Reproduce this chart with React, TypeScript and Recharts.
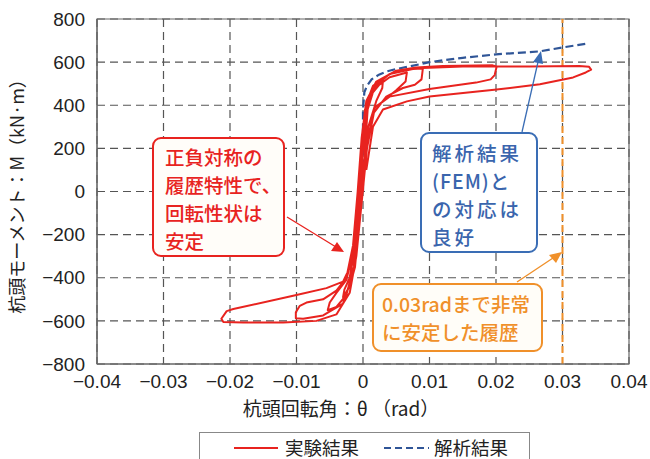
import React from 'react';
import { LineChart, Line, XAxis, YAxis, CartesianGrid, ReferenceLine, ReferenceArea } from 'recharts';

// axis ticks
const xTicks = [-0.04, -0.03, -0.02, -0.01, 0, 0.01, 0.02, 0.03, 0.04];
const xTickLabels = ['−0.04', '−0.03', '−0.02', '−0.01', '0', '0.01', '0.02', '0.03', '0.04'];
const yTicks = [-800, -600, -400, -200, 0, 200, 400, 600, 800];
const yTickLabels = ['−800', '−600', '−400', '−200', '0', '200', '400', '600', '800'];

// 実験結果: [θ (rad), M (kN·m)], cycle by cycle
const cycle1: [number, number][] = [
  [0, 0], [0.0003, 200], [0.0007, 380], [0.0015, 460], [0.003, 515],
  [0.0029, 480], [0.002, 420], [0.0008, 300], [0, 50], [-0.0006, -150],
  [-0.0012, -350], [-0.002, -440], [-0.003, -490], [-0.0028, -455], [-0.002, -400],
  [-0.0012, -250], [-0.0006, -50], [0, 200],
];
const cycle2: [number, number][] = [
  [0.0006, 400], [0.0018, 480], [0.004, 530], [0.0066, 552], [0.0064, 510],
  [0.005, 470], [0.003, 420], [0.0015, 360], [0.0002, 150], [-0.0006, -100],
  [-0.0014, -350], [-0.0025, -480], [-0.004, -535], [-0.0053, -550], [-0.005, -515],
  [-0.004, -470], [-0.0025, -410], [-0.0015, -280], [-0.0008, -50], [-0.0002, 200],
];
const cycle3: [number, number][] = [
  [0.0004, 400], [0.0015, 490], [0.004, 545], [0.0075, 568], [0.009, 570],
  [0.0088, 520], [0.0078, 495], [0.006, 480], [0.0035, 440], [0.0015, 360],
  [0.0003, 150], [-0.0005, -100], [-0.0014, -370], [-0.003, -520], [-0.006, -575],
  [-0.009, -590], [-0.0101, -588], [-0.0101, -560], [-0.0095, -530], [-0.0085, -515],
  [-0.006, -500], [-0.004, -460], [-0.0025, -400], [-0.0015, -250], [-0.0008, 0],
  [-0.0002, 250],
];
const cycle4: [number, number][] = [
  [0.0005, 420], [0.002, 510], [0.005, 560], [0.008, 575], [0.012, 582],
  [0.0195, 585], [0.0201, 580], [0.0198, 540], [0.0192, 520], [0.017, 505],
  [0.01, 475], [0.004, 440], [0.0018, 390], [0.0006, 200], [-0.0002, -50],
  [-0.001, -300], [-0.002, -470], [-0.004, -570], [-0.007, -600], [-0.012, -608],
  [-0.018, -608], [-0.021, -605], [-0.0213, -590], [-0.0205, -555], [-0.0195, -545],
  [-0.01, -480], [-0.0055, -448], [-0.003, -418], [-0.0018, -340], [-0.001, -100],
  [-0.0004, 150],
];
const cycle5: [number, number][] = [
  [0.0003, 380], [0.0015, 480], [0.004, 545], [0.008, 572], [0.015, 580],
  [0.025, 580], [0.0325, 582], [0.034, 578], [0.0343, 565], [0.0335, 552],
  [0.0316, 529], [0.0266, 497], [0.0201, 473], [0.01, 441], [0.0066, 418],
  [0.003, 380], [0.0015, 300], [0.0005, 100],
];

// 解析結果 (FEM)
const femPoints: [number, number][] = [
  [0, 0], [0, 200], [0, 380], [0.0002, 460], [0.0006, 490], [0.0013, 520],
  [0.0024, 542], [0.0036, 557], [0.005, 568], [0.007, 580], [0.01, 600],
  [0.015, 620], [0.02, 636], [0.0266, 650], [0.03, 668], [0.034, 687],
];

const limitTheta = 0.03;

const experiment = [...cycle1, ...cycle2, ...cycle3, ...cycle4, ...cycle5].map(([x, y]) => ({ x, y }));
const fem = femPoints.map(([x, y]) => ({ x, y }));

const RED = '#e8231f';
const BLUE = '#2f5597';
const ORANGE = '#f0902a';
const NUM_FONT = "'Liberation Sans', Arial, 'Noto Sans CJK JP', sans-serif";
const JP_FONT = "'Noto Sans CJK JP', sans-serif";

const boxText: React.CSSProperties = {
  fontFamily: JP_FONT,
  fontSize: 19.5,
  lineHeight: '28px',
  fontWeight: 500,
  whiteSpace: 'nowrap',
};

export default function App() {
  return (
    <div style={{ position: 'absolute', left: 0, top: 0, width: 650, height: 459, background: '#fff', overflow: 'hidden' }}>
      <LineChart width={650} height={459} margin={{ top: 19, right: 21, bottom: 40, left: 0 }}>
        <CartesianGrid strokeDasharray="8 5" stroke="#555" strokeWidth={1.2} />
        <XAxis
          type="number"
          dataKey="x"
          domain={[-0.04, 0.04]}
          ticks={xTicks}
          tickFormatter={(v: number) => xTickLabels[xTicks.indexOf(v)] ?? String(v)}
          tick={{ fontSize: 19, fill: '#222', fontFamily: NUM_FONT }}
          tickLine={false}
          tickMargin={5}
          axisLine={{ stroke: '#666' }}
          height={55}
          allowDataOverflow
          label={{
            content: () => (
              <text x={341} y={411} textAnchor="middle" dominantBaseline="middle" fontSize={19} fill="#222" fontFamily={JP_FONT}>
                杭頭回転角：θ （rad）
              </text>
            ),
          }}
        />
        <YAxis
          type="number"
          domain={[-800, 800]}
          ticks={yTicks}
          tickFormatter={(v: number) => yTickLabels[yTicks.indexOf(v)] ?? String(v)}
          tick={{ fontSize: 19, fill: '#222', fontFamily: NUM_FONT }}
          tickLine={false}
          tickMargin={6}
          axisLine={{ stroke: '#666' }}
          width={97}
          allowDataOverflow
          label={{
            content: () => (
              <text
                x={19}
                y={192}
                transform="rotate(-90 19 192)"
                textAnchor="middle"
                dominantBaseline="middle"
                fontSize={18}
                fill="#222"
                fontFamily={JP_FONT}
              >
                杭頭モーメント：M（kN·m）
              </text>
            ),
          }}
        />
        <ReferenceArea x1={-0.04} x2={0.04} y1={-800} y2={800} fill="none" stroke="#666" strokeWidth={1.2} />
        <ReferenceLine x={limitTheta} stroke={ORANGE} strokeWidth={2} strokeDasharray="7 4" />
        <Line
          data={fem}
          dataKey="y"
          type="linear"
          stroke={BLUE}
          strokeWidth={2.2}
          strokeDasharray="8 4"
          dot={false}
          isAnimationActive={false}
        />
        <Line
          data={experiment}
          dataKey="y"
          type="linear"
          stroke={RED}
          strokeWidth={2}
          strokeLinejoin="round"
          dot={false}
          isAnimationActive={false}
        />
      </LineChart>

      <svg width={650} height={459} style={{ position: 'absolute', left: 0, top: 0, pointerEvents: 'none' }}>
        <line x1={287} y1={217} x2={336} y2={247} stroke={RED} strokeWidth={1.3} />
        <polygon points="344,252 331,251 337,242" fill={RED} />
        <line x1={522} y1={132} x2={538} y2={62} stroke="#3a6db5" strokeWidth={1.3} />
        <polygon points="541,51 543,64 533,62" fill="#3a6db5" />
        <line x1={517} y1={282} x2={553} y2={258} stroke={ORANGE} strokeWidth={1.3} />
        <polygon points="562,252 556,263 549,255" fill={ORANGE} />
      </svg>

      <div
        style={{
          position: 'absolute', left: 152, top: 137, width: 133, height: 120, boxSizing: 'border-box',
          border: `2px solid ${RED}`, borderRadius: 9, background: '#fffdf9', color: RED,
          padding: '4px 0 0 11px', ...boxText,
        }}
      >
        <div>正負対称の</div>
        <div>履歴特性で、</div>
        <div>回転性状は</div>
        <div>安定</div>
      </div>

      <div
        style={{
          position: 'absolute', left: 420, top: 132, width: 118, height: 121, boxSizing: 'border-box',
          border: '2px solid #3a6db5', borderRadius: 9, background: '#fff', color: '#3a65ad',
          padding: '5px 0 0 10px', letterSpacing: 3, ...boxText,
        }}
      >
        <div>解析結果</div>
        <div style={{ letterSpacing: 1 }}>(FEM)と</div>
        <div>の対応は</div>
        <div>良好</div>
      </div>

      <div
        style={{
          position: 'absolute', left: 372, top: 283, width: 171, height: 69, boxSizing: 'border-box',
          border: `2px solid ${ORANGE}`, borderRadius: 9, background: '#fffdf8', color: ORANGE,
          padding: '5px 0 0 8px', ...boxText,
        }}
      >
        <div>0.03radまで非常</div>
        <div>に安定した履歴</div>
      </div>

      <div
        style={{
          position: 'absolute', left: 199, top: 432, width: 331, height: 27, boxSizing: 'border-box',
          borderTop: '1px solid #888', borderLeft: '1px solid #888', borderRight: '1px solid #888',
          background: '#fff', fontFamily: JP_FONT, fontSize: 18.5, color: '#222', whiteSpace: 'nowrap',
        }}
      >
        <svg width={50} height={20} style={{ position: 'absolute', left: 33, top: 5 }}>
          <line x1={1} y1={10} x2={45} y2={10} stroke={RED} strokeWidth={2} />
        </svg>
        <span style={{ position: 'absolute', left: 85, top: 4, lineHeight: '20px' }}>実験結果</span>
        <svg width={50} height={20} style={{ position: 'absolute', left: 183, top: 5 }}>
          <line x1={1} y1={10} x2={46} y2={10} stroke={BLUE} strokeWidth={2} strokeDasharray="7 4" />
        </svg>
        <span style={{ position: 'absolute', left: 234, top: 4, lineHeight: '20px' }}>解析結果</span>
      </div>
    </div>
  );
}
